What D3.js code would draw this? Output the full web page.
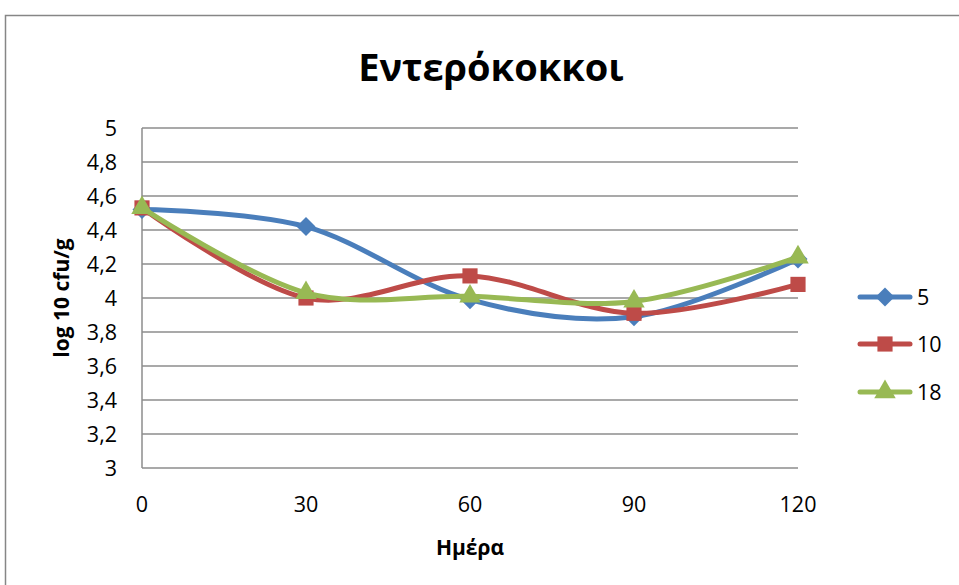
<!DOCTYPE html>
<html>
<head>
<meta charset="utf-8">
<script src="https://cdn.jsdelivr.net/npm/d3@7"></script>
<style>
  html, body { margin: 0; padding: 0; background: #fff; }
  svg { display: block; font-family: "Open Sans", sans-serif; }
</style>
</head>
<body>
<svg id="chart" width="959" height="585"></svg>
<script>
// Sampling days
const days = [0, 30, 60, 90, 120];
// Series names (shown in legend)
const seriesNames = ["5", "10", "18"];
// log10 cfu/g per series
const values5  = [4.52, 4.42, 3.99, 3.89, 4.23];
const values10 = [4.53, 4.00, 4.13, 3.91, 4.08];
const values18 = [4.53, 4.03, 4.01, 3.98, 4.24];
// Axis ticks
const yTicks = [3, 3.2, 3.4, 3.6, 3.8, 4, 4.2, 4.4, 4.6, 4.8, 5];
const xTicks = [0, 30, 60, 90, 120];

const colors = ["#4A7EBB", "#BE4B48", "#98B954"];
const shapes = [d3.symbolSquare, d3.symbolSquare, d3.symbolTriangle];
const shapeSizes = [180, 230, 200];
const shapeRotation = [45, 0, 0];
const seriesValues = [values5, values10, values18];

const svg = d3.select("#chart");

// Outer chart frame
svg.append("rect")
  .attr("x", 5.5).attr("y", 15.5)
  .attr("width", 1000).attr("height", 1000)
  .attr("fill", "#fff")
  .attr("stroke", "#868686").attr("stroke-width", 1.5);

const x = d3.scaleLinear().domain([0, 120]).range([142, 798]);
const y = d3.scaleLinear().domain([3, 5]).range([468, 128]);

// Horizontal gridlines
svg.append("g")
  .selectAll("line")
  .data(yTicks)
  .join("line")
  .attr("x1", x(0)).attr("x2", x(120))
  .attr("y1", d => y(d)).attr("y2", d => y(d))
  .attr("stroke", "#8c8c8c").attr("stroke-width", 1.5);

// Y axis line
svg.append("line")
  .attr("x1", x(0)).attr("x2", x(0))
  .attr("y1", y(5)).attr("y2", y(3))
  .attr("stroke", "#8c8c8c").attr("stroke-width", 1.5);

const fmt = d => String(d).replace(".", ",");

// Y tick labels
svg.append("g")
  .selectAll("text")
  .data(yTicks)
  .join("text")
  .attr("x", 117).attr("y", d => y(d))
  .attr("dy", "0.36em")
  .attr("text-anchor", "end")
  .attr("font-size", 21.5)
  .attr("fill", "#000")
  .text(fmt);

// X tick labels
svg.append("g")
  .selectAll("text")
  .data(xTicks)
  .join("text")
  .attr("x", d => x(d)).attr("y", 512)
  .attr("text-anchor", "middle")
  .attr("font-size", 21.5)
  .attr("fill", "#000")
  .text(d => d);

// Title
svg.append("text")
  .attr("x", 491).attr("y", 81)
  .attr("text-anchor", "middle")
  .attr("font-size", 38).attr("font-weight", "bold")
  .text("Εντερόκοκκοι");

// Axis titles
svg.append("text")
  .attr("x", 470).attr("y", 555)
  .attr("text-anchor", "middle")
  .attr("font-size", 21).attr("font-weight", "bold")
  .text("Ημέρα");

svg.append("text")
  .attr("transform", "translate(69,298) rotate(-90)")
  .attr("text-anchor", "middle")
  .attr("font-size", 21).attr("font-weight", "bold")
  .text("log 10 cfu/g");

// Series lines and markers
const line = d3.line()
  .x((d, i) => x(days[i]))
  .y(d => y(d))
  .curve(d3.curveCardinal.tension(0));

seriesValues.forEach((vals, s) => {
  const g = svg.append("g");
  g.append("path")
    .attr("d", line(vals))
    .attr("fill", "none")
    .attr("stroke", colors[s])
    .attr("stroke-width", 5)
    .attr("stroke-linecap", "round")
    .attr("stroke-linejoin", "round");
  g.selectAll("path.m")
    .data(vals)
    .join("path")
    .attr("class", "m")
    .attr("transform", (d, i) => `translate(${x(days[i])},${y(d)}) rotate(${shapeRotation[s]})`)
    .attr("d", d3.symbol().type(shapes[s]).size(shapeSizes[s]))
    .attr("fill", colors[s]);
});

// Legend
const legendY = [297, 344, 392];
seriesNames.forEach((name, s) => {
  const g = svg.append("g").attr("transform", `translate(0,${legendY[s]})`);
  g.append("line")
    .attr("x1", 860).attr("x2", 910)
    .attr("y1", 0).attr("y2", 0)
    .attr("stroke", colors[s]).attr("stroke-width", 5)
    .attr("stroke-linecap", "round");
  g.append("path")
    .attr("transform", `translate(885,0) rotate(${shapeRotation[s]})`)
    .attr("d", d3.symbol().type(shapes[s]).size(shapeSizes[s]))
    .attr("fill", colors[s]);
  g.append("text")
    .attr("x", 917).attr("y", 0).attr("dy", "0.36em")
    .attr("font-size", 21.5)
    .text(name);
});
</script>
</body>
</html>
